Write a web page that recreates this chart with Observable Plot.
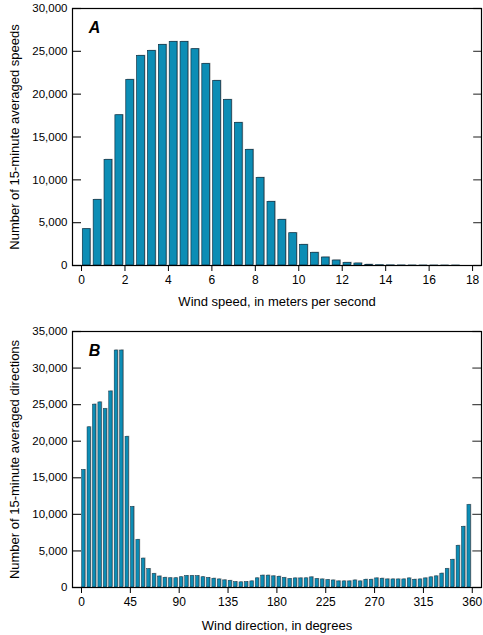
<!DOCTYPE html>
<html><head><meta charset="utf-8">
<script src="https://cdn.jsdelivr.net/npm/d3@7"></script>
<script src="https://cdn.jsdelivr.net/npm/@observablehq/plot@0.6"></script>
<style>body{margin:0;background:#fff;} #chart svg{display:block;}</style>
</head><body><div id="chart"></div><script>
// Panel A: wind speed histogram (bin centers, m/s)
const speedBins = [0.25,0.75,1.25,1.75,2.25,2.75,3.25,3.75,4.25,4.75,5.25,5.75,6.25,6.75,7.25,7.75,8.25,8.75,9.25,9.75,10.25,10.75,11.25,11.75,12.25,12.75,13.25,13.75,14.25,14.75,15.25,15.75,16.25,16.75,17.25,17.75];
const speedCounts = [4240,7660,12330,17540,21670,24470,25050,25750,26100,26100,25250,23530,21550,19330,16650,13500,10230,7430,5330,3770,2410,1480,930,580,310,230,80,30,15,8,5,3,2,1,1,0];
const speedTicks = [0,2,4,6,8,10,12,14,16,18];
const speedCountTicks = [0,5000,10000,15000,20000,25000,30000];

// Panel B: wind direction histogram (bin centers, degrees)
const dirBins = [2.5,7.5,12.5,17.5,22.5,27.5,32.5,37.5,42.5,47.5,52.5,57.5,62.5,67.5,72.5,77.5,82.5,87.5,92.5,97.5,102.5,107.5,112.5,117.5,122.5,127.5,132.5,137.5,142.5,147.5,152.5,157.5,162.5,167.5,172.5,177.5,182.5,187.5,192.5,197.5,202.5,207.5,212.5,217.5,222.5,227.5,232.5,237.5,242.5,247.5,252.5,257.5,262.5,267.5,272.5,277.5,282.5,287.5,292.5,297.5,302.5,307.5,312.5,317.5,322.5,327.5,332.5,337.5,342.5,347.5,352.5,357.5];
const dirCounts = [16050,21900,25000,25300,24400,26800,32400,32400,20600,11000,6500,3950,2500,1850,1500,1320,1260,1260,1400,1560,1560,1540,1400,1290,1200,1100,970,900,720,700,720,830,1250,1620,1620,1520,1470,1300,1150,1240,1240,1250,1380,1150,1100,1010,960,830,830,830,960,830,1060,1060,1240,1200,1100,1100,1100,1100,1240,1060,1100,1240,1380,1520,1890,2530,3780,5700,8290,11280];
const dirTicks = [0,45,90,135,180,225,270,315,360];
const dirCountTicks = [0,5000,10000,15000,20000,25000,30000,35000];

const FONT = "'Liberation Sans', Arial, sans-serif";
const TEAL = "#0c8db5";
const EDGE = "#0d3347";
const SHADOW = "#a8a8a8";

function panel(o) {
  const data = o.bins.map((c, i) => ({c, v: o.counts[i]}));
  const hw = o.binWidth / 2;
  return Plot.plot({
    width: 483,
    height: o.height,
    marginTop: o.marginTop,
    marginBottom: o.marginBottom,
    marginLeft: 72,
    marginRight: 2,
    style: {fontFamily: FONT, fontSize: "12px", color: "#000", background: "#fff", overflow: "visible"},
    x: {domain: o.xDomain},
    y: {domain: o.yDomain},
    marks: [
      Plot.rectY(data, {x1: d => d.c - hw, x2: d => d.c + hw, y: "v", fill: SHADOW,
        insetLeft: o.insetLeft, insetRight: o.insetRight, dx: o.shadow, dy: -0.6}),
      Plot.rectY(data, {x1: d => d.c - hw, x2: d => d.c + hw, y: "v", fill: TEAL,
        stroke: EDGE, strokeWidth: o.edgeWidth, insetLeft: o.insetLeft, insetRight: o.insetRight}),
      Plot.ruleY(o.yTicks, {x1: o.xDomain[0], x2: o.leftTickEnd, stroke: "#222", strokeWidth: 1.2}),
      Plot.ruleY(o.yTicks, {x1: o.rightTickStart, x2: o.xDomain[1], stroke: "#444", strokeWidth: 1.2}),
      Plot.frame({stroke: "#000", strokeWidth: 1.2}),
      Plot.axisX({ticks: o.xTicks, tickSize: 6, tickPadding: 4, label: null, fontSize: 12}),
      Plot.axisY({ticks: o.yTicks, tickSize: 0, tickPadding: 5, tickFormat: d3.format(","), label: null, fontSize: 11.5}),
      Plot.text([o.letter], {frameAnchor: "top-left", dx: 22, dy: 19, fontWeight: "bold", fontStyle: "italic", fontSize: 16, textAnchor: "middle", lineAnchor: "middle"}),
      Plot.text([o.xTitle], {frameAnchor: "bottom", dy: o.xTitleDy, fontSize: 13, lineAnchor: "middle"}),
      Plot.text([o.yTitle], {frameAnchor: "left", dx: -58, dy: o.yTitleDy, rotate: -90, fontSize: 13, textAnchor: "middle", lineAnchor: "middle"})
    ]
  });
}

const chart = document.getElementById("chart");
chart.append(panel({
  bins: speedBins, counts: speedCounts, binWidth: 0.5,
  xDomain: [-0.415, 18.41], yDomain: [0, 30000],
  xTicks: speedTicks, yTicks: speedCountTicks,
  leftTickEnd: 0, rightTickStart: 18.05,
  height: 310, marginTop: 8, marginBottom: 45,
  insetLeft: 1.3, insetRight: 1.8, shadow: 1, edgeWidth: 0.7,
  letter: "A", xTitle: "Wind speed, in meters per second", xTitleDy: 36,
  yTitle: "Number of 15-minute averaged speeds", yTitleDy: 0
}));
chart.append(panel({
  bins: dirBins, counts: dirCounts, binWidth: 5,
  xDomain: [-8.3, 368.5], yDomain: [0, 35000],
  xTicks: dirTicks, yTicks: dirCountTicks,
  leftTickEnd: 0, rightTickStart: 360.5,
  height: 325, marginTop: 21, marginBottom: 48,
  insetLeft: 0.6, insetRight: 1.5, shadow: 1, edgeWidth: 0.5,
  letter: "B", xTitle: "Wind direction, in degrees", xTitleDy: 38,
  yTitle: "Number of 15-minute averaged directions", yTitleDy: 0
}));
</script></body></html>
